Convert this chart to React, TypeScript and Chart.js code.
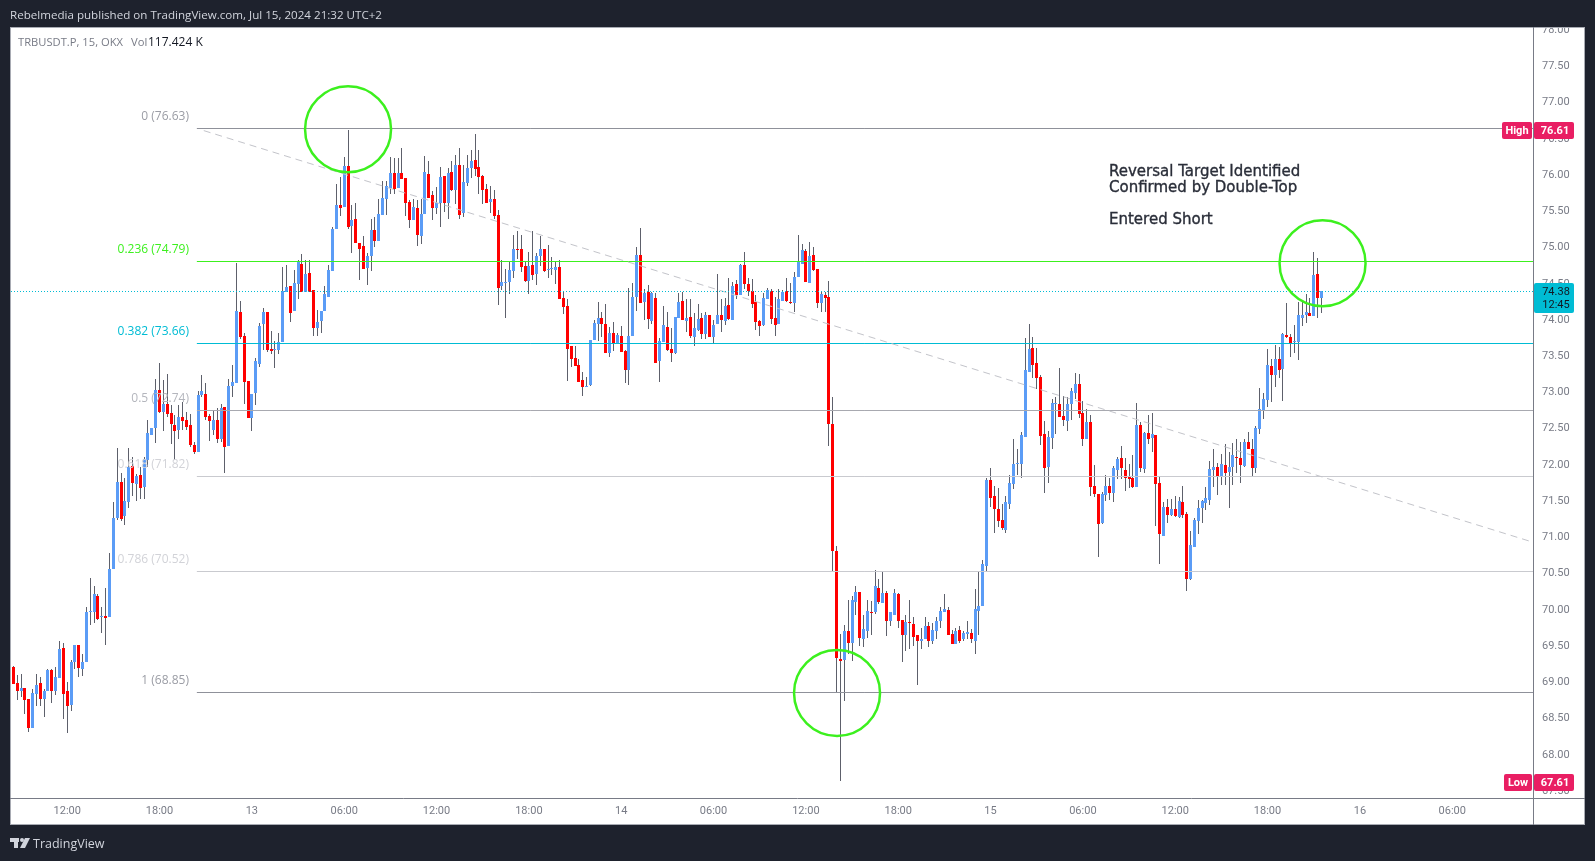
import React, { useEffect, useRef } from "react";
import { Chart, registerables } from "chart.js";

Chart.register(...registerables);

// 15-minute candles, index 0 = 08:30 on the 12th
const opens = [
69.20,68.98,68.87,68.91,68.76,68.36,68.83,68.98,68.76,68.86,
69.16,68.86,69.05,69.46,68.86,68.68,69.26,69.50,69.17,69.27,
69.95,69.96,70.18,69.89,69.90,69.89,70.55,71.26,71.75,71.28,
71.48,71.97,71.72,71.85,71.68,72.06,72.40,72.49,73.02,72.72,
72.83,72.70,72.54,72.47,72.65,72.61,72.54,72.26,72.17,72.95,
72.97,72.66,72.47,72.61,72.34,72.79,72.25,73.08,73.12,74.10,
73.77,73.14,72.63,72.98,73.38,73.93,74.10,73.59,73.57,73.57,
73.68,74.37,74.46,74.11,74.48,74.76,74.37,74.63,74.40,73.88,
73.97,74.11,74.30,74.66,75.24,75.57,75.54,76.11,75.28,75.38,
75.05,75.01,74.70,74.87,75.23,75.08,75.43,75.66,75.81,76.01,
75.81,76.01,75.94,75.61,75.37,75.53,75.15,75.45,76.00,75.71,
75.53,75.60,75.97,75.60,76.03,75.78,76.12,75.46,75.88,76.08,
76.19,76.10,75.97,75.79,75.61,75.66,75.43,74.46,74.50,74.51,
74.66,74.97,74.97,74.73,74.52,74.75,74.62,74.87,74.97,74.68,
74.69,74.68,74.72,74.29,74.18,73.63,73.46,73.37,73.16,73.06,
73.09,73.71,73.93,74.01,73.93,73.53,73.81,73.66,73.77,73.56,
73.30,73.77,74.30,74.88,74.23,74.37,73.97,74.29,73.42,73.68,
73.89,73.59,73.53,74.01,74.25,73.97,74.03,73.75,73.85,74.01,
73.79,74.06,73.75,73.93,74.06,73.97,74.19,73.99,74.48,74.33,
74.75,74.48,74.39,74.23,73.97,73.92,74.28,74.39,74.01,73.93,
74.25,74.39,74.23,74.22,74.58,74.76,74.94,74.50,74.88,74.69,
74.22,74.33,74.30,72.55,70.80,69.31,69.29,69.70,69.53,70.10,
70.23,69.59,69.70,69.96,69.96,70.29,70.08,70.22,69.83,69.92,
70.21,69.85,69.64,69.82,69.79,69.64,69.56,69.58,69.77,69.55,
69.70,69.83,69.96,69.99,69.66,69.52,69.71,69.58,69.66,69.67,
69.56,69.97,70.04,70.59,71.78,71.56,71.38,71.23,71.09,71.45,
71.72,72.00,72.00,72.37,73.27,73.60,73.39,73.20,72.41,71.96,
72.36,72.83,72.83,72.66,72.59,72.83,72.98,73.10,72.70,72.34,
72.58,71.70,71.59,71.19,71.57,71.70,71.60,71.92,72.08,71.92,
71.83,71.81,71.68,72.54,71.93,72.43,72.36,72.40,71.74,71.01,
71.41,71.30,71.38,71.27,71.48,71.31,70.41,70.86,71.21,71.39,
71.46,71.50,71.92,71.96,71.83,71.99,71.89,71.96,72.10,72.08,
71.97,72.30,72.21,71.95,72.48,72.74,72.88,73.35,73.23,73.45,
73.31,73.78,73.75,73.68,73.68,74.01,74.06,74.08,74.04,74.62,
74.29];

const closes = [
68.97,68.87,68.91,68.74,68.35,68.84,68.95,68.76,68.87,69.16,
68.86,69.06,69.45,68.83,68.66,69.27,69.50,69.19,69.27,69.96,
69.97,70.21,69.86,69.90,69.88,70.55,71.26,71.75,71.24,71.49,
71.96,71.74,71.84,71.67,72.07,72.43,72.50,73.02,72.72,72.83,
72.69,72.55,72.45,72.65,72.59,72.51,72.26,72.17,72.95,73.00,
72.65,72.59,72.61,72.34,72.77,72.23,73.08,73.13,74.11,73.75,
73.13,72.63,72.97,73.42,73.90,74.10,73.57,73.56,73.59,73.68,
74.39,74.44,74.08,74.50,74.80,74.37,74.62,74.37,73.88,73.96,
74.11,74.35,74.68,75.24,75.57,75.53,76.11,75.27,75.37,75.05,
74.97,74.69,74.87,75.23,75.08,75.45,75.67,75.83,76.01,75.79,
76.01,75.93,75.60,75.37,75.54,75.16,75.45,76.03,75.67,75.53,
75.60,75.96,75.60,76.01,75.78,76.12,75.43,75.89,76.08,76.18,
76.07,75.96,75.78,75.60,75.66,75.42,74.43,74.51,74.51,74.68,
74.97,74.95,74.72,74.52,74.73,74.61,74.87,74.97,74.66,74.69,
74.70,74.72,74.28,74.17,73.59,73.45,73.35,73.13,73.06,73.08,
73.71,73.95,74.01,73.93,73.53,73.81,73.66,73.78,73.55,73.30,
73.77,74.30,74.88,74.22,74.36,74.00,74.36,73.39,73.70,73.92,
73.57,73.53,74.03,74.23,73.99,74.01,73.77,73.88,74.00,73.79,
74.06,73.75,73.92,74.06,73.99,74.18,74.00,74.46,74.33,74.75,
74.48,74.39,74.21,73.96,73.90,74.29,74.40,74.00,73.92,74.28,
74.37,74.25,74.22,74.58,74.79,74.95,74.51,74.87,74.68,74.22,
74.34,74.29,72.55,70.80,69.32,69.28,69.70,69.53,70.12,70.23,
69.60,69.72,69.97,69.95,70.32,70.10,70.22,69.83,69.96,70.22,
69.83,69.64,69.82,69.81,69.61,69.55,69.58,69.77,69.56,69.71,
69.83,69.97,70.00,69.64,69.52,69.70,69.56,69.67,69.68,69.59,
70.00,70.04,70.62,71.78,71.53,71.38,71.21,71.12,71.48,71.74,
72.00,72.01,72.40,73.30,73.59,73.37,73.19,72.39,71.95,72.37,
72.84,72.84,72.65,72.61,72.83,73.01,73.10,72.69,72.34,72.58,
71.68,71.59,71.17,71.59,71.70,71.60,71.95,72.07,71.95,71.81,
71.79,71.68,72.54,71.95,72.43,72.34,72.41,71.72,71.03,71.41,
71.30,71.38,71.28,71.49,71.30,70.41,70.88,71.23,71.39,71.49,
71.53,71.93,71.96,71.83,72.00,71.88,71.96,72.12,72.08,71.99,
72.30,72.21,71.95,72.50,72.76,72.90,73.37,73.23,73.45,73.30,
73.79,73.75,73.67,73.70,74.06,74.06,74.10,74.04,74.61,74.29,
74.39];

const highs = [
69.21,69.09,69.10,68.91,68.76,68.90,69.10,69.06,68.90,69.17,
69.17,69.20,69.55,69.53,68.99,69.30,69.50,69.50,69.38,70.03,
70.43,70.32,70.21,70.03,70.29,70.77,71.48,72.22,71.88,71.81,
72.22,72.10,71.86,71.96,72.10,72.61,72.50,73.17,73.39,73.16,
73.24,72.81,72.68,72.81,72.86,72.72,72.69,72.30,73.01,73.23,
73.12,72.69,72.74,72.77,72.83,72.79,73.17,73.37,74.77,74.25,
73.81,73.14,72.97,73.46,73.94,74.15,74.10,73.83,73.70,73.81,
74.72,74.74,74.46,74.68,74.81,74.90,74.82,74.82,74.40,74.12,
74.11,74.46,74.74,75.27,75.86,75.96,76.23,76.61,75.57,75.60,
75.05,75.14,74.91,75.38,75.41,75.66,75.90,75.90,76.23,76.22,
76.22,76.36,75.94,75.64,75.66,75.64,75.66,76.25,76.18,75.77,
75.82,76.10,75.97,76.08,76.18,76.26,76.36,76.12,76.26,76.33,
76.55,76.33,75.99,75.86,75.83,75.78,75.50,74.81,74.69,74.80,
75.16,75.21,75.16,74.79,74.92,75.21,74.91,75.14,74.97,75.02,
74.86,74.79,74.81,74.37,74.28,73.63,73.63,73.45,73.27,73.20,
73.71,73.99,74.23,74.10,74.21,73.89,73.96,73.81,73.90,73.57,
74.43,74.50,74.99,75.26,74.41,74.47,74.37,74.36,73.74,74.18,
74.10,73.88,74.03,74.36,74.37,74.28,74.28,74.08,74.21,74.08,
74.10,74.06,73.99,74.62,74.28,74.29,74.57,74.51,74.54,74.76,
74.92,74.57,74.55,74.33,73.99,74.36,74.43,74.41,74.30,74.41,
74.40,74.57,74.50,74.65,75.16,75.03,74.97,75.06,74.99,74.69,
74.37,74.37,74.52,72.92,70.87,69.65,69.78,70.12,70.18,70.31,
70.23,69.92,70.12,70.11,70.54,70.41,70.51,70.25,69.96,70.28,
70.22,69.85,69.92,70.12,69.89,69.64,69.74,69.89,69.82,69.81,
69.89,70.03,70.21,70.03,69.71,69.74,69.77,69.70,69.83,69.72,
70.28,70.51,70.68,71.81,71.95,71.70,71.67,71.45,71.56,71.85,
72.34,72.21,72.44,73.74,73.93,73.75,73.60,73.23,72.59,72.46,
72.90,72.92,73.32,72.94,72.92,73.05,73.25,73.24,72.87,72.76,
72.68,71.99,71.59,71.61,71.85,71.81,71.97,72.10,72.25,72.08,
72.00,72.12,72.84,72.58,72.44,72.68,72.70,72.40,71.83,71.48,
71.52,71.52,71.56,71.54,71.70,71.34,71.08,71.25,71.50,71.50,
71.68,72.04,72.21,72.01,72.14,72.28,72.17,72.29,72.34,72.30,
72.34,72.44,72.34,72.52,73.05,72.98,73.59,73.45,73.64,73.61,
73.81,74.22,73.79,73.92,74.23,74.23,74.35,74.29,74.92,74.84,
74.39];

const lows = [
68.97,68.74,68.78,68.55,68.30,68.36,68.66,68.66,68.51,68.86,
68.70,68.81,69.05,68.48,68.29,68.59,69.17,69.06,69.08,69.27,
69.78,69.81,69.84,69.67,69.50,69.89,70.55,71.23,71.21,71.16,
71.39,71.56,71.49,71.52,71.52,71.96,72.40,72.29,72.70,72.45,
72.65,72.28,72.06,72.34,72.47,72.47,72.23,72.14,72.17,72.93,
72.61,72.32,72.40,72.29,72.30,71.88,72.25,72.92,73.12,73.73,
72.83,72.63,72.46,72.81,73.34,73.57,73.54,73.52,73.32,73.52,
73.68,74.37,73.96,74.11,74.28,74.37,74.37,74.37,73.77,73.77,
73.81,74.11,74.30,74.66,75.24,75.42,75.54,75.24,74.91,75.05,
74.54,74.69,74.47,74.66,74.99,75.08,75.43,75.43,75.72,75.72,
75.81,75.93,75.42,75.26,75.37,75.01,75.03,75.45,75.67,75.37,
75.45,75.27,75.48,75.38,75.77,75.59,75.38,75.41,75.83,75.94,
75.97,75.72,75.59,75.60,75.46,75.38,74.19,74.40,74.01,74.35,
74.57,74.83,74.65,74.51,74.35,74.54,74.47,74.73,74.65,74.57,
74.61,74.48,74.28,74.07,73.15,73.34,73.35,73.13,72.94,73.06,
73.08,73.71,73.70,73.75,73.53,73.48,73.56,73.66,73.55,73.12,
73.09,73.77,74.11,74.22,73.99,73.86,73.93,73.39,73.13,73.68,
73.56,73.41,73.52,74.01,73.99,73.82,73.74,73.63,73.84,73.72,
73.72,73.75,73.66,73.93,73.82,73.92,73.99,73.99,74.28,74.33,
74.41,74.32,74.15,73.85,73.77,73.90,74.28,73.93,73.77,73.93,
74.25,74.23,74.21,74.10,74.58,74.76,74.51,74.50,74.66,74.15,
74.10,74.10,72.25,70.52,68.85,67.62,68.73,69.38,69.28,69.92,
69.49,69.48,69.60,69.64,69.93,70.07,70.08,69.63,69.77,69.92,
69.73,69.27,69.42,69.45,69.49,68.95,69.45,69.58,69.48,69.51,
69.59,69.74,69.96,69.64,69.51,69.52,69.53,69.56,69.58,69.53,
69.38,69.64,70.04,70.51,71.41,71.05,71.13,71.09,71.05,71.38,
71.66,71.85,71.81,72.37,73.27,73.19,73.03,72.26,71.60,71.74,
72.21,72.41,72.65,72.52,72.46,72.61,72.90,72.63,72.25,72.34,
71.56,71.55,70.72,71.17,71.49,71.50,71.48,71.79,71.79,71.63,
71.67,71.67,71.68,71.89,71.88,72.28,72.17,71.14,70.62,71.01,
71.19,71.28,71.27,71.25,71.25,70.25,70.40,70.86,71.03,71.19,
71.37,71.43,71.68,71.57,71.71,71.71,71.39,71.71,71.88,71.74,
71.96,72.21,71.82,71.88,72.41,72.62,72.79,72.86,73.06,73.19,
72.87,73.74,73.48,73.53,73.43,73.90,73.95,74.04,74.04,74.01,
74.08];

const timeTickIndex = [14, 38, 62, 86, 110, 134, 158, 182, 206, 230, 254, 278, 302, 326, 350, 374];
const timeTickLabels = ["12:00", "18:00", "13", "06:00", "12:00", "18:00", "14", "06:00", "12:00", "18:00", "15", "06:00", "12:00", "18:00", "16", "06:00"];
const priceTicks = [67.5, 68, 68.5, 69, 69.5, 70, 70.5, 71, 71.5, 72, 72.5, 73, 73.5, 74, 74.5, 75, 75.5, 76, 76.5, 77, 77.5, 78];

const fibRatios = ["0", "0.236", "0.382", "0.5", "0.618", "0.786", "1"];
const fibLevels = [76.63, 74.79, 73.66, 72.74, 71.82, 70.52, 68.85];
const fibColors = ["#8f919a", "#3cf01e", "#00bcd4", "#a8a9b0", "#c9cacf", "#c9cacf", "#8f919a"];
const fibTextColors = ["#9b9da5", "#3cf01e", "#00bcd4", "#b4b6bd", "#d2d3d8", "#d2d3d8", "#9b9da5"];
const fibStartIndex = 47.7;

const trendX = [49.5, 395];
const trendY = [76.6, 70.92];

const lastPrice = 74.38;
const highPrice = 76.61;
const lowPrice = 67.61;

const circleX = [87, 214.1, 340.3];
const circleY = [76.62, 68.84, 74.77];

const noteLines = ["Reversal Target Identified", "Confirmed by Double-Top", "", "Entered Short"];

const X_MIN = -0.61;
const X_MAX = 395;
const Y_MIN = 67.39;
const Y_MAX = 78.03;

const UP = "#5b9cf6";
const DOWN = "#ff0000";
const WICK = "#5d606b";
const FRAME = "#1e222d";
const AXIS = "#787b86";
const UI_FONT = "Roboto";

const zeroPadding = (s: any) => {
  s.paddingTop = 0;
  s.paddingBottom = 0;
  s.paddingLeft = 0;
  s.paddingRight = 0;
};

const snapPlugin = {
  id: "snap",
  beforeDatasetsDraw(chart: any) {
    chart.data.datasets.forEach((ds: any, i: number) => {
      const meta = chart.getDatasetMeta(i);
      if (ds.snapKind === "bar") {
        meta.data.forEach((el: any) => {
          el.x = Math.floor(el.x) + 0.5;
          el.y = Math.round(el.y);
          el.base = Math.round(el.base);
          if (el.y === el.base) el.base += 1;
        });
      } else if (ds.snapKind === "hline") {
        meta.data.forEach((el: any) => {
          el.y = Math.floor(el.y) + 0.5;
        });
      }
    });
  },
};

const panelPlugin = {
  id: "panel",
  beforeDraw(chart: any) {
    const { ctx, width, height } = chart;
    ctx.save();
    ctx.fillStyle = FRAME;
    ctx.fillRect(0, 0, width, height);
    ctx.fillStyle = "#ffffff";
    ctx.fillRect(10, 27, 1575, 798);
    ctx.restore();
  },
  afterDatasetsDraw(chart: any) {
    const { ctx, scales } = chart;
    const y = scales.y;
    ctx.save();
    ctx.textBaseline = "middle";
    ctx.font = `12px "Open Sans"`;
    ctx.textAlign = "right";
    fibLevels.forEach((lvl, i) => {
      ctx.fillStyle = fibTextColors[i];
      ctx.fillText(`${fibRatios[i]} (${lvl.toFixed(2)})`, 189, y.getPixelForValue(lvl) - 12);
    });
    ctx.textAlign = "left";
    ctx.fillStyle = "#2a2e39";
    ctx.strokeStyle = "#2a2e39";
    ctx.lineWidth = 0.35;
    ctx.font = `15px "DejaVu Sans"`;
    const rows = [172, 188, 204, 220];
    noteLines.forEach((t, i) => {
      ctx.fillText(t, 1109, rows[i]);
      ctx.strokeText(t, 1109, rows[i]);
    });
    ctx.restore();
  },
  afterDraw(chart: any) {
    const { ctx, width, height, scales } = chart;
    const y = scales.y;
    ctx.save();
    // dark frame hides axis text overflowing the panel
    ctx.fillStyle = FRAME;
    ctx.fillRect(0, 0, width, 27);
    ctx.fillRect(0, 825, width, height - 825);
    // panel border and axis extensions
    ctx.strokeStyle = "#a8abb3";
    ctx.lineWidth = 1;
    ctx.strokeRect(10.5, 27.5, 1574, 797);
    ctx.strokeStyle = AXIS;
    ctx.beginPath();
    ctx.moveTo(10, 798.5);
    ctx.lineTo(1585, 798.5);
    ctx.moveTo(1533.5, 27);
    ctx.lineTo(1533.5, 825);
    ctx.stroke();

    // price pills
    const pill = (x: number, w: number, top: number, h: number, color: string) => {
      ctx.fillStyle = color;
      ctx.beginPath();
      ctx.roundRect(x, top, w, h, 2);
      ctx.fill();
    };
    ctx.textBaseline = "middle";
    ctx.textAlign = "center";
    const pink = "#e91e63";
    const hy = Math.round(y.getPixelForValue(highPrice));
    const ly = Math.round(y.getPixelForValue(lowPrice));
    const cy = Math.round(y.getPixelForValue(lastPrice));
    pill(1502, 30, hy - 8, 17, pink);
    pill(1534, 40, hy - 8, 17, pink);
    pill(1504, 28, ly - 8, 17, pink);
    pill(1534, 40, ly - 8, 17, pink);
    pill(1534, 40, cy - 8, 30, "#00bcd4");
    ctx.font = `bold 11px ${UI_FONT}`;
    ctx.fillStyle = "#ffffff";
    ctx.fillText("High", 1517, hy + 1);
    ctx.fillText(highPrice.toFixed(2), 1555, hy + 1);
    ctx.fillText("Low", 1518, ly + 1);
    ctx.fillText(lowPrice.toFixed(2), 1555, ly + 1);
    ctx.font = `11px ${UI_FONT}`;
    ctx.fillStyle = "#131722";
    ctx.fillText(lastPrice.toFixed(2), 1556, cy + 1);
    ctx.fillText("12:45", 1556, cy + 14);

    // header, legend, footer
    ctx.textAlign = "left";
    ctx.font = `11.6px "Open Sans"`;
    ctx.fillStyle = "#d1d4dc";
    ctx.fillText("Rebelmedia published on TradingView.com, Jul 15, 2024 21:32 UTC+2", 10, 16);
    ctx.font = `11.2px "Open Sans"`;
    ctx.fillStyle = AXIS;
    ctx.fillText("TRBUSDT.P, 15, OKX", 18, 43);
    ctx.fillText("Vol", 131, 43);
    ctx.fillStyle = "#131722";
    ctx.font = `12px "Open Sans"`;
    ctx.fillText("117.424 K", 148, 43);
    ctx.fillStyle = "#d1d4dc";
    ctx.font = `12.5px "Open Sans"`;
    ctx.fillText("TradingView", 33, 844);
    // logo
    ctx.fillStyle = "#d1d4dc";
    ctx.fillRect(10, 838, 9, 4);
    ctx.fillRect(14, 838, 4, 10);
    ctx.beginPath();
    ctx.arc(22, 840, 2, 0, Math.PI * 2);
    ctx.fill();
    ctx.beginPath();
    ctx.moveTo(25, 838);
    ctx.lineTo(30, 838);
    ctx.lineTo(25, 848);
    ctx.lineTo(20, 848);
    ctx.fill();
    ctx.restore();
  },
};

export default function App() {
  const ref = useRef<HTMLCanvasElement>(null);
  useEffect(() => {
    document.body.style.margin = "0";
    document.body.style.background = FRAME;
    const idx = opens.map((_, i) => i);
    const colors = idx.map((i) => (closes[i] >= opens[i] ? UP : DOWN));
    const hline = (value: number, from: number) => [
      { x: from, y: value },
      { x: X_MAX, y: value },
    ];
    const datasets: any[] = [
      {
        type: "bar",
        snapKind: "bar",
        order: 10,
        grouped: false,
        barThickness: 1,
        inflateAmount: 0,
        backgroundColor: WICK,
        data: idx.map((i) => ({ x: i, y: [lows[i], highs[i]] })),
      },
      {
        type: "bar",
        snapKind: "bar",
        order: 9,
        grouped: false,
        barThickness: 3,
        inflateAmount: 0,
        backgroundColor: colors,
        data: idx.map((i) => ({ x: i, y: [Math.min(opens[i], closes[i]), Math.max(opens[i], closes[i])] })),
      },
      ...fibLevels.map((lvl, i) => ({
        type: "line",
        snapKind: "hline",
        order: 5,
        data: hline(lvl, fibStartIndex),
        borderColor: fibColors[i],
        borderWidth: 1,
        pointRadius: 0,
      })),
      {
        type: "line",
        order: 4,
        data: trendX.map((x, i) => ({ x, y: trendY[i] })),
        borderColor: "#c3c4ca",
        borderWidth: 1,
        borderDash: [7, 5],
        pointRadius: 0,
      },
      {
        type: "line",
        snapKind: "hline",
        order: 3,
        data: hline(lastPrice, X_MIN),
        borderColor: "#00bcd4",
        borderWidth: 1,
        borderDash: [1, 2],
        pointRadius: 0,
      },
      {
        type: "scatter",
        order: 1,
        data: circleX.map((x, i) => ({ x, y: circleY[i] })),
        pointRadius: 43,
        pointHoverRadius: 43,
        pointBackgroundColor: "rgba(0,0,0,0)",
        pointBorderColor: "#3cf01e",
        pointBorderWidth: 2.5,
        showLine: false,
        clip: false,
      },
    ];
    const chart = new Chart(ref.current as HTMLCanvasElement, {
      type: "bar",
      data: { datasets },
      plugins: [snapPlugin, panelPlugin],
      options: {
        animation: false,
        responsive: false,
        events: [],
        layout: { autoPadding: false, padding: { left: 11, top: 27, right: 10, bottom: 36 } },
        plugins: { legend: { display: false }, tooltip: { enabled: false } },
        scales: {
          x: {
            type: "linear",
            offset: false,
            min: X_MIN,
            max: X_MAX,
            grid: { display: false, offset: false, drawTicks: false },
            border: { display: false },
            afterFit: (s: any) => {
              s.height = 27;
              zeroPadding(s);
            },
            afterBuildTicks: (s: any) => {
              s.ticks = timeTickIndex.map((value) => ({ value }));
            },
            ticks: {
              autoSkip: false,
              maxRotation: 0,
              padding: 7,
              color: AXIS,
              font: { family: UI_FONT, size: 11 },
              callback: (v: any) => timeTickLabels[timeTickIndex.indexOf(v)] ?? "",
            },
          },
          y: {
            type: "linear",
            position: "right",
            min: Y_MIN,
            max: Y_MAX,
            grid: { display: false, drawTicks: false },
            border: { display: false },
            afterFit: (s: any) => {
              s.width = 52;
              zeroPadding(s);
            },
            afterBuildTicks: (s: any) => {
              s.ticks = priceTicks.map((value) => ({ value }));
            },
            ticks: {
              autoSkip: false,
              padding: 9,
              labelOffset: 1,
              color: AXIS,
              font: { family: UI_FONT, size: 11 },
              callback: (v: any) => Number(v).toFixed(2),
            },
          },
        },
      },
    } as any);
    return () => chart.destroy();
  }, []);
  return <canvas ref={ref} width={1595} height={861} style={{ display: "block" }} />;
}
